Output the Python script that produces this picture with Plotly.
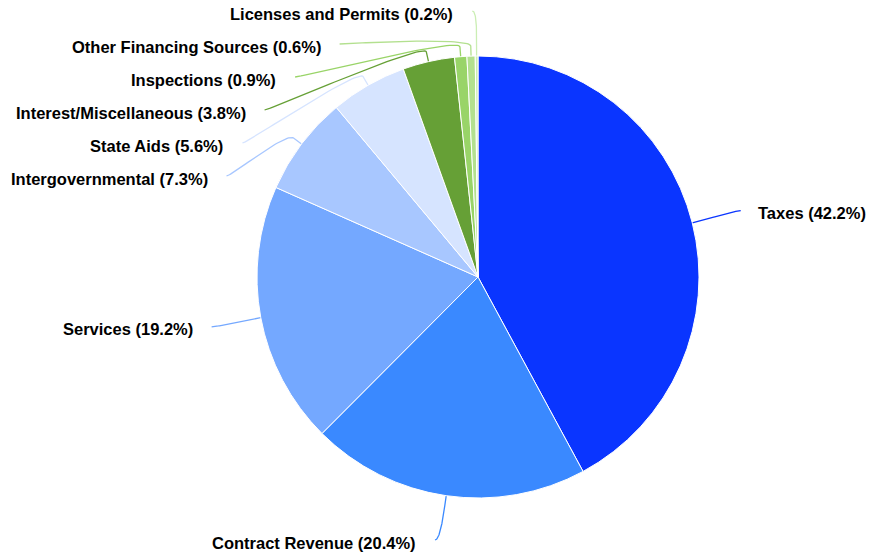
import math
import plotly.graph_objects as go

# ---- data ----
categories = ["Taxes", "Contract Revenue", "Services", "Intergovernmental", "State Aids",
              "Interest/Miscellaneous", "Inspections", "Other Financing Sources", "Licenses and Permits"]
values = [42.2, 20.4, 19.2, 7.3, 5.6, 3.8, 0.9, 0.6, 0.2]
colors = ["#0a35ff", "#3a89ff", "#74a8ff", "#a8c7ff", "#d6e4ff",
          "#66a036", "#99d468", "#b3e08f", "#cbeeb4"]

# ---- layout constants (pixels) ----
W, H = 869, 557
CX, CY, RAD = 478, 277, 221
DIST = 50            # label distance from pie edge
BREAK = 10           # connector break offset
SPACING = 33         # min vertical spacing between labels
YMIN, YMAX = 11, 540 # connector end bounds
GAP_L, GAP_R = 18, 16  # gap between connector end and text
FONT = dict(family="Liberation Sans, Arial, sans-serif", size=16.5, color="#000000")

total = sum(values)
R = RAD + DIST

fig = go.Figure()

fig.add_trace(go.Pie(
    labels=categories, values=values, sort=False, direction="clockwise", rotation=0,
    marker=dict(colors=colors, line=dict(color="#ffffff", width=1)),
    textinfo="none", hoverinfo="skip", showlegend=False,
    domain=dict(x=[(CX - RAD) / W, (CX + RAD) / W], y=[1 - (CY + RAD) / H, 1 - (CY - RAD) / H]),
))

# compute label geometry
info = []
cum = 0.0
for i, v in enumerate(values):
    th = 2 * math.pi * (cum + v / 2) / total
    cum += v
    s, c = math.sin(th), math.cos(th)
    info.append(dict(i=i, s=s, c=c, left=s < 0,
                     nx=CX + R * s, ny=CY - R * c))

for side in (True, False):
    items = sorted([d for d in info if d["left"] == side], key=lambda d: d["ny"])
    prev = None
    for d in items:
        y = d["ny"]
        if prev is not None:
            y = max(y, prev + SPACING)
        clamped = False
        if y < YMIN:
            y = YMIN
            clamped = True
        if y > YMAX:
            y = YMAX
            clamped = True
        d["y"] = y
        d["clamped"] = clamped
        prev = y
    for k in range(len(items) - 2, -1, -1):
        if items[k + 1]["y"] - items[k]["y"] < SPACING:
            items[k]["y"] = items[k + 1]["y"] - SPACING

for d in info:
    y = d["y"]
    if d["clamped"]:
        x = d["nx"] + (-4 if d["left"] else 4)
    else:
        dy = max(-R, min(R, y - CY))
        x = CX + (-1 if d["left"] else 1) * math.sqrt(R * R - dy * dy)
    d["x"] = x

for d in info:
    i = d["i"]
    s, c = d["s"], d["c"]
    tx, ty = CX + RAD * s, CY - RAD * c
    bx, by = CX + (RAD + BREAK) * s, CY - (RAD + BREAK) * c
    c2x, c2y = 2 * bx - tx, 2 * by - ty
    lx, ly = d["x"], d["y"]
    c1x, c1y = lx + (5 if d["left"] else -5), ly
    xs, ys = [], []
    n = 40
    for k in range(n + 1):
        t = k / n
        a, b, cc, dd = (1 - t) ** 3, 3 * (1 - t) ** 2 * t, 3 * (1 - t) * t ** 2, t ** 3
        xs.append(a * lx + b * c1x + cc * c2x + dd * bx)
        ys.append(a * ly + b * c1y + cc * c2y + dd * by)
    xs.append(tx)
    ys.append(ty)
    fig.add_trace(go.Scatter(x=xs, y=ys, mode="lines", line=dict(color=colors[i], width=1.3),
                             hoverinfo="skip", showlegend=False))
    fig.add_annotation(
        x=lx + (-GAP_L if d["left"] else GAP_R), y=ly + 2.5, xref="x", yref="y",
        text="<b>%s (%.1f%%)</b>" % (categories[i], values[i]),
        showarrow=False, xanchor="right" if d["left"] else "left", yanchor="middle",
        font=FONT, borderpad=0,
    )

fig.update_layout(
    width=W, height=H, margin=dict(l=0, r=0, t=0, b=0),
    paper_bgcolor="#ffffff", plot_bgcolor="rgba(0,0,0,0)",
    xaxis=dict(range=[0, W], visible=False, fixedrange=True),
    yaxis=dict(range=[H, 0], visible=False, fixedrange=True),
    showlegend=False,
)

fig.write_html("out.html", config={"displayModeBar": False},
               post_script="document.body.style.margin='0';document.body.style.overflow='hidden';")
